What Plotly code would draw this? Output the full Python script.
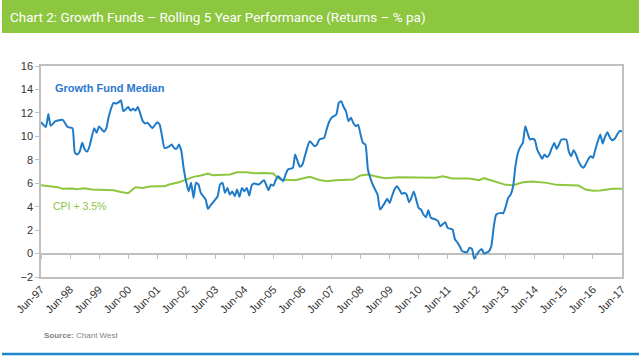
import plotly.graph_objects as go

# ---------------- data ----------------
growth_dates = [
    "1997-06", "1997-08", "1997-09", "1997-10", "1997-12", "1998-03", "1998-05", "1998-07",
    "1998-08", "1998-09", "1998-10", "1998-11", "1998-12", "1999-01", "1999-02", "1999-04",
    "1999-05", "1999-06", "1999-08", "1999-09", "1999-10", "1999-12", "2000-01", "2000-02",
    "2000-03", "2000-04", "2000-05", "2000-06", "2000-07", "2000-08", "2000-09", "2000-10",
    "2000-12", "2001-01", "2001-02", "2001-04", "2001-06", "2001-07", "2001-08", "2001-09",
    "2001-11", "2001-12", "2002-01", "2002-02", "2002-03", "2002-04", "2002-05", "2002-06",
    "2002-07", "2002-08", "2002-09", "2002-10", "2002-11", "2002-12", "2003-02", "2003-03",
    "2003-04", "2003-06", "2003-07", "2003-08", "2003-09", "2003-10", "2003-11", "2003-12",
    "2004-01", "2004-02", "2004-03", "2004-04", "2004-05", "2004-06", "2004-07", "2004-08",
    "2004-09", "2004-10", "2004-12", "2005-02", "2005-03", "2005-04", "2005-05", "2005-06",
    "2005-07", "2005-08", "2005-10", "2005-11", "2005-12", "2006-02", "2006-03", "2006-04",
    "2006-05", "2006-06", "2006-07", "2006-09", "2006-11", "2006-12", "2007-01", "2007-03",
    "2007-04", "2007-05", "2007-06", "2007-08", "2007-09", "2007-10", "2007-11", "2007-12",
    "2008-01", "2008-02", "2008-03", "2008-04", "2008-05", "2008-06", "2008-07", "2008-08",
    "2008-09", "2008-10", "2008-11", "2008-12", "2009-01", "2009-02", "2009-04", "2009-05",
    "2009-06", "2009-07", "2009-08", "2009-09", "2009-10", "2009-11", "2009-12", "2010-01",
    "2010-02", "2010-03", "2010-04", "2010-05", "2010-06", "2010-07", "2010-08", "2010-09",
    "2010-10", "2010-11", "2011-01", "2011-02", "2011-03", "2011-05", "2011-06", "2011-08",
    "2011-09", "2011-10", "2011-11", "2011-12", "2012-02", "2012-03", "2012-04", "2012-05",
    "2012-06", "2012-07", "2012-08", "2012-09", "2012-11", "2012-12", "2013-01", "2013-02",
    "2013-04", "2013-05", "2013-06", "2013-07", "2013-08", "2013-09", "2013-10", "2013-11",
    "2013-12", "2014-01", "2014-02", "2014-03", "2014-04", "2014-05", "2014-06", "2014-07",
    "2014-08", "2014-09", "2014-10", "2014-11", "2014-12", "2015-01", "2015-02", "2015-03",
    "2015-04", "2015-05", "2015-07", "2015-08", "2015-09", "2015-10", "2015-11", "2015-12",
    "2016-01", "2016-02", "2016-03", "2016-04", "2016-05", "2016-06", "2016-07", "2016-08",
    "2016-09", "2016-10", "2016-11", "2016-12", "2017-01", "2017-02", "2017-03", "2017-04",
    "2017-05", "2017-06",
]
growth_values = [
    11.2, 10.8, 11.9, 10.9, 11.3, 11.4, 10.8, 10.7,
    8.6, 8.45, 8.7, 9.45, 8.9, 8.7, 9.15, 10.7,
    10.3, 10.85, 10.4, 10.7, 11.7, 12.85, 12.8, 12.9,
    13.08, 12.14, 12.3, 12.5, 12.2, 12.35, 12.2, 12.5,
    11.3, 11.1, 11.15, 10.7, 11.2, 11.0, 10.0, 9.0,
    9.15, 9.3, 9.0, 8.95, 9.3, 8.73, 7.2, 6.1,
    5.3, 6.03, 4.75, 6.03, 5.9, 5.18, 4.6, 3.81,
    4.1, 4.6, 4.89, 5.89, 6.03, 5.18, 5.6, 5.03,
    5.3, 4.89, 5.46, 4.84, 5.6, 5.3, 5.6, 4.95,
    5.8, 5.97, 5.89, 6.26, 5.89, 5.4, 5.89, 5.8,
    6.3, 6.6, 6.17, 6.74, 7.17, 7.31, 8.45, 7.88,
    7.4, 7.6, 8.3, 9.58, 9.15, 9.3, 9.73, 9.87,
    10.58, 11.2, 11.58, 11.86, 12.86, 13.0, 12.5, 12.14,
    11.29, 11.58, 11.15, 10.86, 11.0, 10.15, 9.44, 9.3,
    7.17, 6.46, 5.89, 5.46, 5.03, 3.75, 4.32, 4.67,
    4.32, 4.89, 5.46, 5.74, 5.46, 5.1, 5.18, 5.03,
    4.38, 4.75, 5.3, 4.6, 3.9, 3.75, 3.33, 3.1,
    3.7, 3.05, 2.9, 2.76, 2.33, 2.67, 2.19, 2.05,
    1.2, 0.95, 0.6, 0.2, 0.11, 0.49, 0.4, -0.45,
    -0.09, 0.2, 0.4, 0.0, 0.2, 0.62, 2.3, 3.33,
    3.47, 3.45, 4.04, 4.75, 5.03, 5.74, 7.5, 8.6,
    9.1, 9.44, 10.86, 10.3, 9.73, 9.79, 9.67, 8.87,
    8.45, 8.08, 8.45, 8.22, 8.45, 9.01, 9.44, 8.93,
    9.3, 9.73, 9.73, 8.73, 8.3, 8.82, 8.45, 7.88,
    7.51, 7.31, 7.6, 8.02, 8.3, 8.16, 8.87, 9.58,
    10.15, 9.39, 10.0, 10.35, 9.87, 9.67, 9.79, 10.15,
    10.44, 10.44,
]

cpi_dates = [
    "1997-06", "1997-10", "1998-01", "1998-03", "1998-07", "1998-09", "1998-12", "1999-03",
    "1999-06", "1999-09", "1999-12", "2000-03", "2000-06", "2000-08", "2000-09", "2000-12",
    "2001-03", "2001-06", "2001-09", "2001-11", "2002-03", "2002-06", "2002-09", "2002-12",
    "2003-03", "2003-05", "2003-09", "2003-12", "2004-03", "2004-07", "2004-10", "2005-02",
    "2005-06", "2005-07", "2005-09", "2005-12", "2006-03", "2006-06", "2006-09", "2007-01",
    "2007-04", "2007-08", "2008-03", "2008-06", "2008-09", "2008-12", "2009-04", "2009-10",
    "2010-07", "2011-01", "2011-04", "2011-08", "2012-03", "2012-07", "2012-09", "2013-01",
    "2013-06", "2013-09", "2014-01", "2014-05", "2014-11", "2015-03", "2015-12", "2016-03",
    "2016-06", "2016-09", "2017-02", "2017-06",
]
cpi_values = [
    5.83, 5.74, 5.66, 5.52, 5.55, 5.49, 5.57, 5.46,
    5.43, 5.43, 5.4, 5.26, 5.15, 5.5, 5.66, 5.6,
    5.72, 5.74, 5.74, 5.89, 6.08, 6.31, 6.54, 6.66,
    6.83, 6.68, 6.74, 6.74, 6.94, 6.94, 6.85, 6.88,
    6.83, 6.6, 6.31, 6.31, 6.25, 6.4, 6.54, 6.28,
    6.17, 6.25, 6.31, 6.66, 6.74, 6.6, 6.43, 6.51,
    6.51, 6.46, 6.6, 6.4, 6.4, 6.25, 6.43, 6.17,
    5.86, 5.83, 6.08, 6.14, 6.03, 5.86, 5.8, 5.46,
    5.35, 5.38, 5.52, 5.52,
]

tick_dates = ["1997-06", "1998-06", "1999-06", "2000-06", "2001-06", "2002-06", "2003-06",
              "2004-06", "2005-06", "2006-06", "2007-06", "2008-06", "2009-06", "2010-06",
              "2011-06", "2012-06", "2013-06", "2014-06", "2015-06", "2016-06", "2017-06"]
tick_labels = ["Jun-97", "Jun-98", "Jun-99", "Jun-00", "Jun-01", "Jun-02", "Jun-03",
               "Jun-04", "Jun-05", "Jun-06", "Jun-07", "Jun-08", "Jun-09", "Jun-10",
               "Jun-11", "Jun-12", "Jun-13", "Jun-14", "Jun-15", "Jun-16", "Jun-17"]

title_text = "Chart 2: Growth Funds \u2013 Rolling 5 Year Performance (Returns \u2013 % pa)"

# ---------------- figure ----------------
W, H = 639, 359
L, R, T, B = 41, 17, 66, 82
pw, ph = W - L - R, H - T - B

BLUE = "#1f7bc7"
GREEN = "#8dc63f"
AXIS_GREY = "#bfbfbf"

fig = go.Figure()
fig.add_trace(go.Scatter(x=cpi_dates, y=cpi_values, mode="lines",
                         line=dict(color=GREEN, width=2), hoverinfo="skip"))
fig.add_trace(go.Scatter(x=growth_dates, y=growth_values, mode="lines",
                         line=dict(color=BLUE, width=2, shape="spline", smoothing=0.5),
                         hoverinfo="skip"))
# invisible trace on second x axis for tick marks on the zero line
fig.add_trace(go.Scatter(x=[tick_dates[0], tick_dates[-1]], y=[None, None], xaxis="x2",
                         mode="lines", hoverinfo="skip", showlegend=False))

xr = ["1997-06-01", "2017-06-01"]
fig.update_layout(
    width=W, height=H,
    margin=dict(l=L, r=R, t=T, b=B, autoexpand=False),
    paper_bgcolor="white", plot_bgcolor="white",
    showlegend=False,
    font=dict(family="Liberation Sans, Arial, sans-serif", color="#262626", size=11),
    title=dict(text=title_text, xref="container", yref="container",
               x=10 / W, y=1 - 17 / H, xanchor="left", yanchor="middle",
               font=dict(family="Liberation Sans Narrow, Roboto, Liberation Sans, sans-serif",
                         size=13.5, color="white")),
    xaxis=dict(type="date", range=xr, tickmode="array", tickvals=tick_dates,
               ticktext=tick_labels, tickangle=-45, ticks="", showgrid=False,
               showline=True, linecolor=AXIS_GREY, linewidth=1.5, mirror=True,
               zeroline=False, tickfont=dict(size=11, color="#333333")),
    xaxis2=dict(type="date", range=xr, overlaying="x", anchor="free",
                position=(0 - (-2)) / 18, tickmode="array", tickvals=tick_dates,
                showticklabels=False, ticks="outside", ticklen=4, tickcolor=AXIS_GREY,
                showline=False, showgrid=False, zeroline=False),
    yaxis=dict(range=[-2, 16], dtick=2, tick0=0, ticks="outside", ticklen=4,
               tickcolor=AXIS_GREY, showgrid=False, showline=True, linecolor=AXIS_GREY,
               linewidth=1.5, mirror=True, zeroline=True, zerolinecolor=AXIS_GREY,
               zerolinewidth=1.5, tickfont=dict(size=11, color="#333333")),
    shapes=[
        dict(type="rect", xref="paper", yref="paper",
             x0=(2 - L) / pw, x1=(W - L) / pw,
             y0=(H - B - 33) / ph, y1=(H - B) / ph,
             fillcolor=GREEN, line=dict(width=0), layer="below"),
        dict(type="line", xref="paper", yref="paper",
             x0=(2 - L) / pw, x1=(W - L) / pw,
             y0=(H - B - 354) / ph, y1=(H - B - 354) / ph,
             line=dict(color="#1f87cc", width=2.5)),
    ],
    annotations=[
        dict(text="<b>Growth Fund Median</b>", xref="paper", yref="paper",
             x=(53 - L) / pw, y=(H - B - 88) / ph, xanchor="left", yanchor="middle",
             showarrow=False, font=dict(size=11, color="#2a78d0")),
        dict(text="CPI + 3.5%", xref="paper", yref="paper",
             x=(51 - L) / pw, y=(H - B - 206) / ph, xanchor="left", yanchor="middle",
             showarrow=False, font=dict(size=10.5, color=GREEN)),
        dict(text="<b>Source:</b> Chant West", xref="paper", yref="paper",
             x=(42 - L) / pw, y=(H - B - 335) / ph, xanchor="left", yanchor="middle",
             showarrow=False, font=dict(size=8, color="#7f7f7f")),
    ],
)

fig.write_html("out.html", config={"displayModeBar": False},
               post_script="document.body.style.margin='0px';document.body.style.overflow='hidden';")
